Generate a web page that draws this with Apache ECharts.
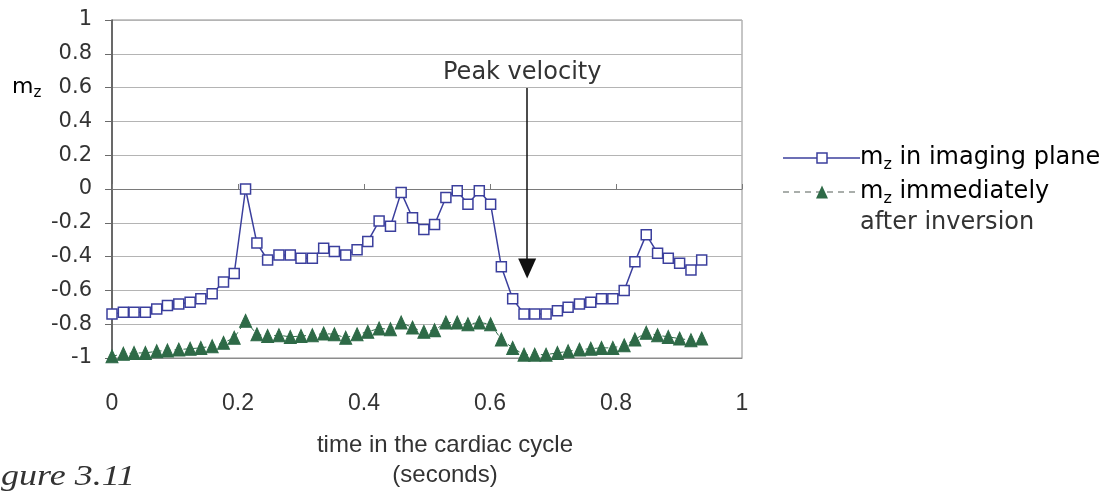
<!DOCTYPE html>
<html>
<head>
<meta charset="utf-8">
<script src="https://cdn.jsdelivr.net/npm/echarts@6/dist/echarts.min.js"></script>
<style>
  html, body { margin: 0; padding: 0; background: #fff; }
  #chart { width: 1113px; height: 495px; }
</style>
</head>
<body>
<div id="chart"></div>
<script>
// Sample times across the cardiac cycle (seconds)
const times = [
  0, 0.018, 0.035, 0.053, 0.071, 0.088, 0.106, 0.124, 0.141, 0.159,
  0.177, 0.194, 0.212, 0.230, 0.247, 0.265, 0.283, 0.300, 0.318, 0.336,
  0.353, 0.371, 0.389, 0.406, 0.424, 0.442, 0.459, 0.477, 0.495, 0.512,
  0.530, 0.548, 0.565, 0.583, 0.601, 0.618, 0.636, 0.654, 0.671, 0.689,
  0.707, 0.724, 0.742, 0.760, 0.777, 0.795, 0.813, 0.830, 0.848, 0.866,
  0.883, 0.901, 0.919, 0.936
];

// Longitudinal magnetisation in the imaging plane
const mzImaging = [
  -0.74, -0.73, -0.73, -0.73, -0.71, -0.69, -0.68, -0.67, -0.65, -0.62,
  -0.55, -0.50, 0.00, -0.32, -0.42, -0.39, -0.39, -0.41, -0.41, -0.35,
  -0.37, -0.39, -0.36, -0.31, -0.19, -0.22, -0.02, -0.17, -0.24, -0.21,
  -0.05, -0.01, -0.09, -0.01, -0.09, -0.46, -0.65, -0.74, -0.74, -0.74,
  -0.72, -0.70, -0.68, -0.67, -0.65, -0.65, -0.60, -0.43, -0.27, -0.38,
  -0.41, -0.44, -0.48, -0.42
];

// Longitudinal magnetisation immediately after the inversion pulse
const mzInversion = [
  -0.99, -0.975, -0.97, -0.97, -0.96, -0.955, -0.95, -0.945, -0.94, -0.93,
  -0.91, -0.88, -0.78, -0.86, -0.87, -0.865, -0.875, -0.87, -0.865, -0.855,
  -0.86, -0.88, -0.86, -0.845, -0.825, -0.83, -0.79, -0.82, -0.845, -0.835,
  -0.79, -0.79, -0.80, -0.79, -0.80, -0.89, -0.94, -0.98, -0.98, -0.98,
  -0.97, -0.96, -0.95, -0.945, -0.94, -0.94, -0.925, -0.89, -0.85, -0.865,
  -0.875, -0.885, -0.895, -0.885
];

// Peak-velocity annotation: time, arrow top, arrow end
const peakVelocity = [0.659, 0.597, -0.47];

const BLUE = '#3b3f9d';
const GREEN = '#2e6a47';
const TEXT = '#333333';
const SANS = '"DejaVu Sans", "Liberation Sans", sans-serif';
const ARIAL = '"Liberation Sans", Arial, sans-serif';

const pairs = (ys) => times.map((t, i) => [t, ys[i]]);

// rich text styles for "m" with subscript "z"
const mzRich = (size) => ({
  t: { fontFamily: SANS, fontSize: size, color: TEXT, lineHeight: size },
  z: { fontFamily: SANS, fontSize: Math.round(size * 0.68), color: TEXT,
       lineHeight: Math.round(size * 0.68), padding: [Math.round(size * 0.55), 0, 0, 0] }
});

const chart = echarts.init(document.getElementById('chart'), null, { renderer: 'canvas' });

chart.setOption({
  backgroundColor: '#ffffff',
  animation: false,
  grid: {
    left: 112, top: 20, width: 630, height: 338,
    show: true, borderColor: '#8c8c8c', borderWidth: 1, backgroundColor: 'transparent'
  },
  xAxis: [
    {
      type: 'value', min: 0, max: 1, interval: 0.2,
      axisLine: { onZero: false, lineStyle: { color: '#8c8c8c' } },
      axisTick: { show: false },
      splitLine: { show: false },
      axisLabel: { fontFamily: ARIAL, fontSize: 23, color: TEXT, margin: 34 }
    },
    {
      type: 'value', min: 0, max: 1, interval: 0.2, position: 'top',
      axisLine: { onZero: true, lineStyle: { color: '#7a7a7a', width: 1 } },
      axisTick: { show: true, length: 5, lineStyle: { color: '#7a7a7a' } },
      axisLabel: { show: false },
      splitLine: { show: false }
    }
  ],
  yAxis: {
    type: 'value', min: -1, max: 1, interval: 0.2,
    axisLine: { show: true, onZero: false, lineStyle: { color: '#4a4a4a', width: 1.5 } },
    axisTick: { show: true, length: 7, lineStyle: { color: '#6a6a6a' } },
    splitLine: { show: true, lineStyle: { color: '#b4b4b4', width: 1 } },
    axisLabel: { fontFamily: SANS, fontSize: 21, color: TEXT, margin: 20 }
  },
  series: [
    {
      name: 'mz in imaging plane',
      type: 'line',
      data: pairs(mzImaging),
      symbol: 'rect', symbolSize: 10,
      itemStyle: { color: '#ffffff', borderColor: BLUE, borderWidth: 1.5 },
      lineStyle: { color: BLUE, width: 1.5 },
      z: 3,
      markLine: {
        silent: true,
        animation: false,
        label: { show: false },
        symbol: ['none', 'triangle'],
        symbolSize: [18, 20],
        lineStyle: { color: '#111111', width: 1.5, type: 'solid' },
        data: [[
          { coord: [peakVelocity[0], peakVelocity[1]], symbol: 'none' },
          { coord: [peakVelocity[0], peakVelocity[2]], symbol: 'triangle' }
        ]]
      }
    },
    {
      name: 'mz immediately after inversion',
      type: 'line',
      data: pairs(mzInversion),
      symbol: 'triangle', symbolSize: [12, 13],
      itemStyle: { color: GREEN, borderColor: GREEN },
      lineStyle: { color: GREEN, width: 1, type: [5, 4] },
      z: 2
    }
  ],
  graphic: [
    // y-axis title
    { type: 'text', left: 12, top: 74, style: { text: '{t|m}{z|z}', rich: mzRich(22) } },
    // annotation text
    { type: 'text', left: 443, top: 61,
      style: { text: 'Peak velocity', fontFamily: SANS, fontSize: 24, fill: TEXT } },
    // x-axis title
    { type: 'text', x: 445, y: 445,
      style: { text: 'time in the cardiac cycle', fontFamily: ARIAL, fontSize: 24,
               fill: TEXT, align: 'center', verticalAlign: 'middle' } },
    { type: 'text', x: 445, y: 475,
      style: { text: '(seconds)', fontFamily: ARIAL, fontSize: 24,
               fill: TEXT, align: 'center', verticalAlign: 'middle' } },
    // figure caption
    { type: 'text', x: 135, y: 492, scaleX: 1.2,
      style: { text: 'Figure 3.11', font: 'italic 30px "Liberation Serif", "DejaVu Serif", serif',
               fill: TEXT, align: 'right', verticalAlign: 'bottom' } },
    // legend: imaging plane
    { type: 'line', shape: { x1: 783, y1: 158, x2: 860, y2: 158 },
      style: { stroke: BLUE, lineWidth: 1.5 } },
    { type: 'rect', shape: { x: 817, y: 153, width: 10, height: 10 },
      style: { fill: '#ffffff', stroke: BLUE, lineWidth: 1.5 } },
    { type: 'text', x: 860, y: 158,
      style: { text: '{t|m}{z|z}{t| in imaging plane}', rich: mzRich(24), verticalAlign: 'middle' } },
    // legend: after inversion
    { type: 'line', shape: { x1: 783, y1: 192, x2: 860, y2: 192 },
      style: { stroke: '#555f58', lineWidth: 1.2, lineDash: [6, 5] } },
    { type: 'polygon', shape: { points: [[822, 185.5], [828, 198.5], [816, 198.5]] },
      style: { fill: GREEN } },
    { type: 'text', x: 860, y: 192,
      style: { text: '{t|m}{z|z}{t| immediately}', rich: mzRich(24), verticalAlign: 'middle' } },
    { type: 'text', x: 860, y: 223,
      style: { text: 'after inversion', fontFamily: SANS, fontSize: 24, fill: TEXT, verticalAlign: 'middle' } }
  ]
});
</script>
</body>
</html>
